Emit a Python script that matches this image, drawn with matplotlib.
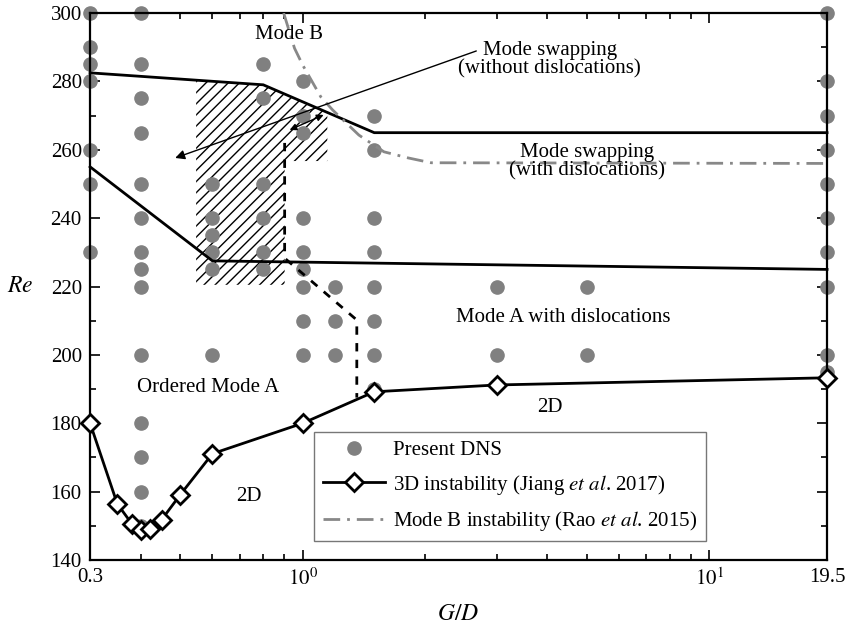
import matplotlib
matplotlib.use("Agg")
import matplotlib.pyplot as plt
from matplotlib.ticker import FixedLocator, LogLocator, MultipleLocator, NullFormatter

plt.rcParams['font.family'] = 'serif'
plt.rcParams['font.serif'] = ['Liberation Serif', 'DejaVu Serif']
plt.rcParams['mathtext.fontset'] = 'stix'
plt.rcParams['hatch.linewidth'] = 1.0

# Present DNS cases, one column per gap ratio
dns_cols = {
    0.3: [300, 290, 285, 280, 260, 250, 230],
    0.4: [300, 285, 275, 265, 250, 240, 230, 225, 220, 200, 180, 170, 160, 150],
    0.6: [250, 240, 235, 230, 225, 200],
    0.8: [285, 275, 250, 240, 230, 225],
    1.0: [280, 270, 265, 240, 230, 225, 220, 210, 200],
    1.2: [220, 210, 200],
    1.5: [270, 260, 240, 230, 220, 210, 200, 190],
    3.0: [220, 200],
    5.0: [220, 200],
    19.5: [300, 280, 270, 260, 250, 240, 230, 220, 200, 195],
}

# 3D instability (Jiang et al. 2017)
jiang_x = [0.3, 0.35, 0.38, 0.40, 0.42, 0.45, 0.50, 0.6, 1.0, 1.5, 3.0, 19.5]
jiang_re = [180, 156.4, 150.6, 148.8, 149.1, 151.8, 159.1, 171.1, 180, 189.2, 191.2, 193.3]

# Mode B instability (Rao et al. 2015)
rao_x = [0.898, 0.955, 1.0, 1.108, 1.186, 1.375, 1.585, 1.82, 2.07, 19.5]
rao_re = [300, 289.7, 284.8, 275.5, 271.6, 264.3, 259.4, 257.6, 256.2, 256]

# region boundaries
upper_x = [0.3, 0.8, 1.5, 19.5]
upper_re = [282.5, 279, 265, 265]
lower_x = [0.3, 0.6, 19.5]
lower_re = [255, 227.5, 225]
dash_x = [0.903, 0.903, 1.359, 1.359]
dash_re = [262, 228.3, 210.2, 187.5]
hatch_x = [0.547, 0.547, 0.8, 1.15, 1.15, 0.903, 0.903]
hatch_re = [220.5, 280.4, 279, 270.9, 256.7, 256.7, 220.5]

fig = plt.figure(figsize=(8.5, 6.29), dpi=100)
ax = fig.add_axes([0.106, 0.1097, 0.867, 0.8696])

ax.fill(hatch_x, hatch_re, facecolor='none', edgecolor='black', hatch='///', linewidth=0, zorder=1)

dns_x = [x for x, res in dns_cols.items() for _ in res]
dns_re = [r for res in dns_cols.values() for r in res]
ax.plot(dns_x, dns_re, 'o', color='#808080', markersize=9.5, linestyle='none',
        label='Present DNS', clip_on=False, zorder=2)

ax.plot(upper_x, upper_re, color='black', lw=2, zorder=3, clip_on=False)
ax.plot(lower_x, lower_re, color='black', lw=2, zorder=3, clip_on=False)
ax.plot(dash_x, dash_re, color='black', lw=2, ls=(0, (3, 3)), zorder=3)

ax.plot(jiang_x, jiang_re, '-D', color='black', lw=2, markersize=9, mfc='white', mec='black',
        mew=2, label='3D instability (Jiang $et\\ al$. 2017)', clip_on=False, zorder=4)
ax.plot(rao_x, rao_re, color='#888888', lw=2, ls=(0, (6, 2.5, 1, 2.5)),
        label='Mode B instability (Rao $et\\ al$. 2015)', zorder=3)

# annotations
ax.annotate('', xy=(0.4857, 257.6), xytext=(2.674, 288.9),
            arrowprops=dict(arrowstyle='-|>', color='black', lw=1, mutation_scale=14, shrinkA=0, shrinkB=0))
ax.annotate('', xy=(1.126, 270.2), xytext=(0.929, 265.8),
            arrowprops=dict(arrowstyle='<|-|>', color='black', lw=1, mutation_scale=10, shrinkA=0, shrinkB=0))

fs = 15
ax.text(0.923, 293.6, 'Mode B', fontsize=fs, ha='center', va='center')
ax.text(4.05, 286.3, 'Mode swapping\n(without dislocations)', fontsize=fs, ha='center', va='center',
        linespacing=0.95)
ax.text(5.0, 256.4, 'Mode swapping\n(with dislocations)', fontsize=fs, ha='center', va='center',
        linespacing=0.95)
ax.text(4.38, 211, 'Mode A with dislocations', fontsize=fs, ha='center', va='center')
ax.text(0.586, 190.6, 'Ordered Mode A', fontsize=fs, ha='center', va='center')
ax.text(0.736, 158.5, '2D', fontsize=fs, ha='center', va='center')
ax.text(4.05, 184.5, '2D', fontsize=fs, ha='center', va='center')

ax.set_xscale('log')
ax.set_xlim(0.3, 19.5)
ax.set_ylim(140, 300)
ax.xaxis.set_major_locator(FixedLocator([0.3, 1, 10, 19.5]))
ax.set_xticklabels(['0.3', '$10^0$', '$10^1$', '19.5'])
ax.xaxis.set_minor_locator(LogLocator(base=10, subs=range(2, 10)))
ax.xaxis.set_minor_formatter(NullFormatter())
ax.yaxis.set_major_locator(MultipleLocator(20))
ax.yaxis.set_minor_locator(MultipleLocator(10))

ax.tick_params(which='both', direction='in', top=True, right=True, labelsize=15, width=1.2)
ax.tick_params(which='major', length=7, pad=6)
ax.tick_params(which='minor', length=4.5)
for s in ax.spines.values():
    s.set_linewidth(1.6)

ax.set_xlabel('$G/D$', fontsize=17, labelpad=10)
ax.set_ylabel('$Re$', fontsize=17, rotation=0, va='center')
ax.yaxis.set_label_coords(-0.095, 0.5)

leg = ax.legend(loc='lower left', bbox_to_anchor=(0.29, 0.015), fontsize=15, frameon=True,
                fancybox=False, edgecolor='#555555', handlelength=3, labelspacing=0.6,
                borderpad=0.4, handletextpad=0.4)
leg.get_frame().set_linewidth(1.0)

fig.savefig('out.png', dpi=100)
